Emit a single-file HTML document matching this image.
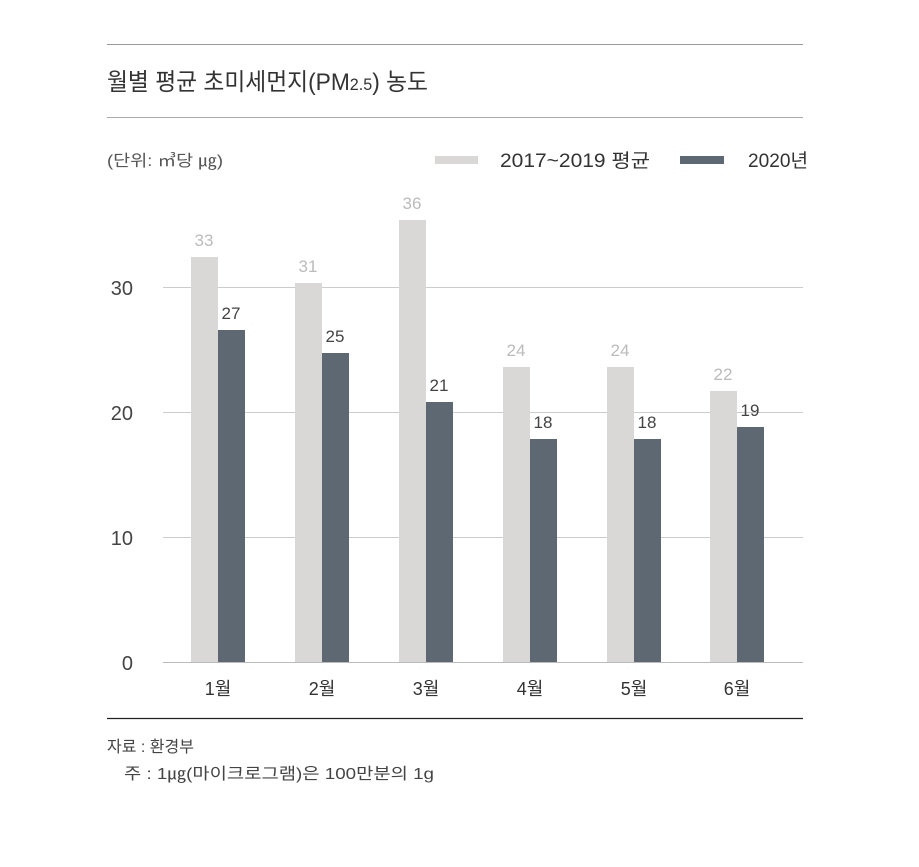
<!DOCTYPE html>
<html><head><meta charset="utf-8"><style>
body{margin:0;background:#fff}
svg text{font-family:"Liberation Sans","Noto Sans CJK KR",sans-serif}
</style></head><body>
<svg width="919" height="862" xmlns="http://www.w3.org/2000/svg">
<rect width="919" height="862" fill="#fff"/>
<line x1="107" y1="44.5" x2="803" y2="44.5" stroke="#999" stroke-width="1"/>
<text x="107" y="90" font-size="24" fill="#333" textLength="321" lengthAdjust="spacingAndGlyphs">월별 평균 초미세먼지(PM<tspan font-size="17">2.5</tspan>) 농도</text>
<line x1="107" y1="117.5" x2="803" y2="117.5" stroke="#aaa" stroke-width="1"/>
<text x="107" y="166" font-size="16" fill="#555" textLength="116" lengthAdjust="spacingAndGlyphs">(단위: ㎥당 ㎍)</text>
<rect x="435" y="156" width="43" height="8" fill="#d9d8d6"/>
<text x="500" y="167" font-size="19" fill="#333" textLength="150" lengthAdjust="spacingAndGlyphs">2017~2019 평균</text>
<rect x="680" y="156" width="44" height="8" fill="#5d6872"/>
<text x="748" y="167" font-size="19" fill="#333" textLength="60" lengthAdjust="spacingAndGlyphs">2020년</text>
<g stroke="#ccc" stroke-width="1">
<line x1="163" y1="287.5" x2="803" y2="287.5"/>
<line x1="163" y1="412.5" x2="803" y2="412.5"/>
<line x1="163" y1="537.5" x2="803" y2="537.5"/>
</g>
<g font-size="20" fill="#444" text-anchor="end">
<text x="133" y="295">30</text><text x="133" y="420">20</text><text x="133" y="545">10</text><text x="133" y="670">0</text>
</g>
<g fill="#d9d8d6">
<rect x="191" y="257" width="27" height="405"/>
<rect x="295" y="283" width="27" height="379"/>
<rect x="399" y="220" width="27" height="442"/>
<rect x="503" y="367" width="27" height="295"/>
<rect x="607" y="367" width="27" height="295"/>
<rect x="710" y="391" width="27" height="271"/>
</g>
<g fill="#5d6872">
<rect x="218" y="330" width="27" height="332"/>
<rect x="322" y="353" width="27" height="309"/>
<rect x="426" y="402" width="27" height="260"/>
<rect x="530" y="439" width="27" height="223"/>
<rect x="634" y="439" width="27" height="223"/>
<rect x="737" y="427" width="27" height="235"/>
</g>
<g font-size="17" fill="#bbb" text-anchor="middle">
<text x="204" y="246">33</text><text x="308" y="272">31</text><text x="412" y="209">36</text>
<text x="516" y="356">24</text><text x="620" y="356">24</text><text x="723" y="380">22</text>
</g>
<g font-size="17" fill="#444" text-anchor="middle">
<text x="231" y="319">27</text><text x="335" y="342">25</text><text x="439" y="391">21</text>
<text x="543" y="428">18</text><text x="647" y="428">18</text><text x="750" y="416">19</text>
</g>
<line x1="163" y1="662.5" x2="803" y2="662.5" stroke="#bbb" stroke-width="1"/>
<g font-size="18" fill="#333" text-anchor="middle">
<text x="218" y="695">1월</text><text x="322" y="695">2월</text><text x="426" y="695">3월</text>
<text x="530" y="695">4월</text><text x="634" y="695">5월</text><text x="737" y="695">6월</text>
</g>
<line x1="107" y1="718.5" x2="803" y2="718.5" stroke="#222" stroke-width="1.2"/>
<text x="107" y="752" font-size="16" fill="#444">자료 : 환경부</text>
<text x="124" y="779" font-size="16" fill="#444" textLength="310" lengthAdjust="spacingAndGlyphs">주 : 1㎍(마이크로그램)은 100만분의 1g</text>
</svg>
</body></html>
